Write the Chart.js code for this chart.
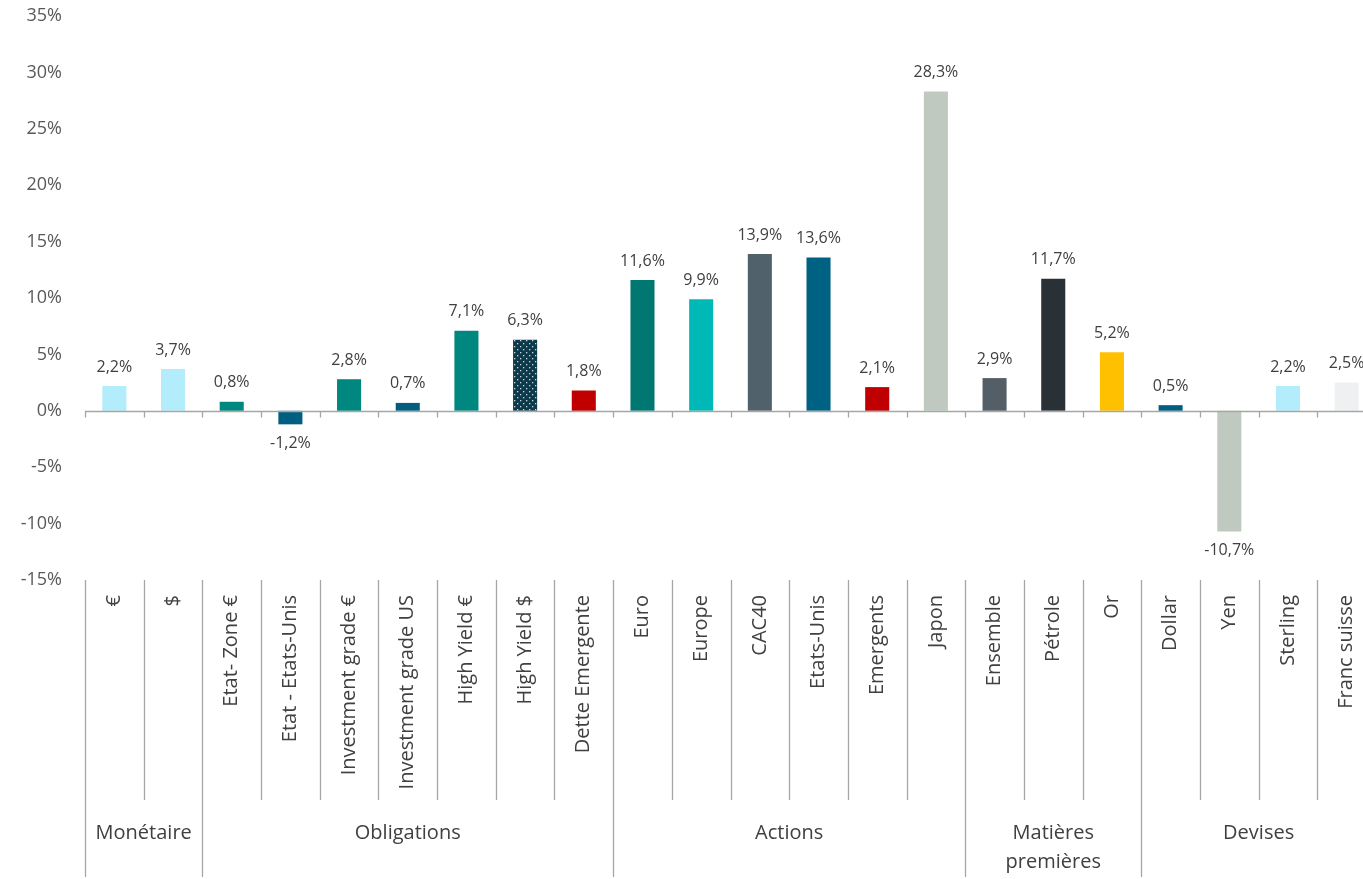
<!DOCTYPE html>
<html>
<head>
<meta charset="utf-8">
<script src="https://cdn.jsdelivr.net/npm/chart.js@4"></script>
<style>
  html, body { margin: 0; padding: 0; background: #fff; overflow: hidden; }
  #wrap { position: absolute; left: 0; top: 0; width: 1380px; height: 879px; }
</style>
</head>
<body>
<div id="wrap"><canvas id="perfChart" width="1380" height="879"></canvas></div>
<script>
// data
const categories = [
  "€", "$",
  "Etat- Zone €", "Etat - Etats-Unis", "Investment grade €", "Investment grade US",
  "High Yield €", "High Yield $", "Dette Emergente",
  "Euro", "Europe", "CAC40", "Etats-Unis", "Emergents", "Japon",
  "Ensemble", "Pétrole", "Or",
  "Dollar", "Yen", "Sterling", "Franc suisse"
];
const values = [
  2.2, 3.7,
  0.8, -1.2, 2.8, 0.7, 7.1, 6.3, 1.8,
  11.6, 9.9, 13.9, 13.6, 2.1, 28.3,
  2.9, 11.7, 5.2,
  0.5, -10.7, 2.2, 2.5
];
const groupLabels = ["Monétaire", "Obligations", "Actions", ["Matières", "premières"], "Devises"];
const groupSizes = [2, 7, 6, 3, 4];
const yTicks = [-15, -10, -5, 0, 5, 10, 15, 20, 25, 30, 35];

const barColors = [
  "#b3ecfa", "#b3ecfa",
  "#00877f", "#005f80", "#00877f", "#005f80", "#00877f", "dots", "#c00000",
  "#007770", "#00b9b7", "#50616b", "#006283", "#c00000", "#c0c9c0",
  "#545e66", "#293136", "#ffc000",
  "#005f80", "#c0c9c0", "#b3ecfa", "#eff0f1"
];

function makeDots() {
  const c = document.createElement("canvas");
  c.width = 6;
  c.height = 6;
  const g = c.getContext("2d");
  g.fillStyle = "#0c3a4b";
  g.fillRect(0, 0, 6, 6);
  g.fillStyle = "#c9d8de";
  g.fillRect(1, 1, 1.3, 1.3);
  g.fillRect(4, 4, 1.3, 1.3);
  return g.createPattern(c, "repeat");
}

const fmt = (v) => v.toFixed(1).replace(".", ",") + "%";

const axisDecor = {
  id: "axisDecor",
  afterDatasetsDraw(chart) {
    const ctx = chart.ctx;
    const area = chart.chartArea;
    const x = chart.scales.x;
    const y = chart.scales.y;
    const n = categories.length;
    const step = (area.right - area.left) / n;
    const y0 = Math.round(y.getPixelForValue(0)) + 0.5;
    const bound = (i) => Math.round(area.left + i * step) + 0.5;

    ctx.save();
    // zero line and small ticks
    ctx.strokeStyle = "#a6a6a6";
    ctx.lineWidth = 1.3;
    ctx.beginPath();
    ctx.moveTo(area.left, y0);
    ctx.lineTo(area.right, y0);
    for (let i = 0; i <= n; i++) {
      ctx.moveTo(bound(i), y0);
      ctx.lineTo(bound(i), y0 + 6);
    }
    ctx.stroke();

    // value labels
    ctx.fillStyle = "#404040";
    ctx.font = "16px 'Open Sans'";
    ctx.textAlign = "center";
    ctx.textBaseline = "middle";
    const meta = chart.getDatasetMeta(0);
    meta.data.forEach((bar, i) => {
      const v = values[i];
      const ly = v >= 0 ? bar.y - 19 : bar.y + 19;
      ctx.fillText(fmt(v), bar.x, ly);
    });

    // category separators and labels under the plot
    const top = area.bottom;
    const groupEdges = [0];
    groupSizes.forEach((s) => groupEdges.push(groupEdges[groupEdges.length - 1] + s));
    ctx.strokeStyle = "#a6a6a6";
    ctx.lineWidth = 1.3;
    ctx.beginPath();
    for (let i = 0; i <= n; i++) {
      const bottom = groupEdges.includes(i) ? 877 : 800;
      ctx.moveTo(bound(i), top);
      ctx.lineTo(bound(i), bottom);
    }
    ctx.stroke();

    ctx.fillStyle = "#404040";
    ctx.font = "20px 'Open Sans'";
    categories.forEach((label, i) => {
      ctx.save();
      ctx.translate(x.getPixelForValue(i), top + 15);
      ctx.rotate(-Math.PI / 2);
      ctx.textAlign = "right";
      ctx.textBaseline = "middle";
      ctx.fillText(label, 0, 0);
      ctx.restore();
    });

    ctx.font = "20px 'Open Sans'";
    ctx.textAlign = "center";
    ctx.textBaseline = "middle";
    groupLabels.forEach((label, g) => {
      const cx = (area.left + groupEdges[g] * step + area.left + groupEdges[g + 1] * step) / 2;
      const lines = Array.isArray(label) ? label : [label];
      lines.forEach((line, k) => ctx.fillText(line, cx, 833 + k * 29));
    });
    ctx.restore();
  },
};

document.addEventListener("DOMContentLoaded", () => {
  const colors = barColors.map((c) => (c === "dots" ? makeDots() : c));
  const ctx = document.getElementById("perfChart").getContext("2d");
  new Chart(ctx, {
    type: "bar",
    data: {
      labels: categories,
      datasets: [
        {
          data: values,
          backgroundColor: colors,
          borderWidth: 0,
          barPercentage: 0.41,
          categoryPercentage: 1,
        },
      ],
    },
    options: {
      responsive: false,
      animation: false,
      devicePixelRatio: 1,
      layout: { padding: { top: 16, right: 4, bottom: 299, left: 0 } },
      plugins: { legend: { display: false }, tooltip: { enabled: false } },
      scales: {
        x: { display: false },
        y: {
          min: -15,
          max: 35,
          afterFit(scale) {
            scale.width = 85;
            scale.paddingTop = 0;
            scale.paddingBottom = 0;
          },
          afterBuildTicks(scale) {
            scale.ticks = yTicks.map((v) => ({ value: v }));
          },
          grid: { display: false, drawTicks: false },
          border: { display: false },
          ticks: {
            padding: 23,
            color: "#595959",
            font: { family: "'Open Sans'", size: 18 },
            callback: (v) => v + "%",
          },
        },
      },
    },
    plugins: [axisDecor],
  });
});
</script>
</body>
</html>
